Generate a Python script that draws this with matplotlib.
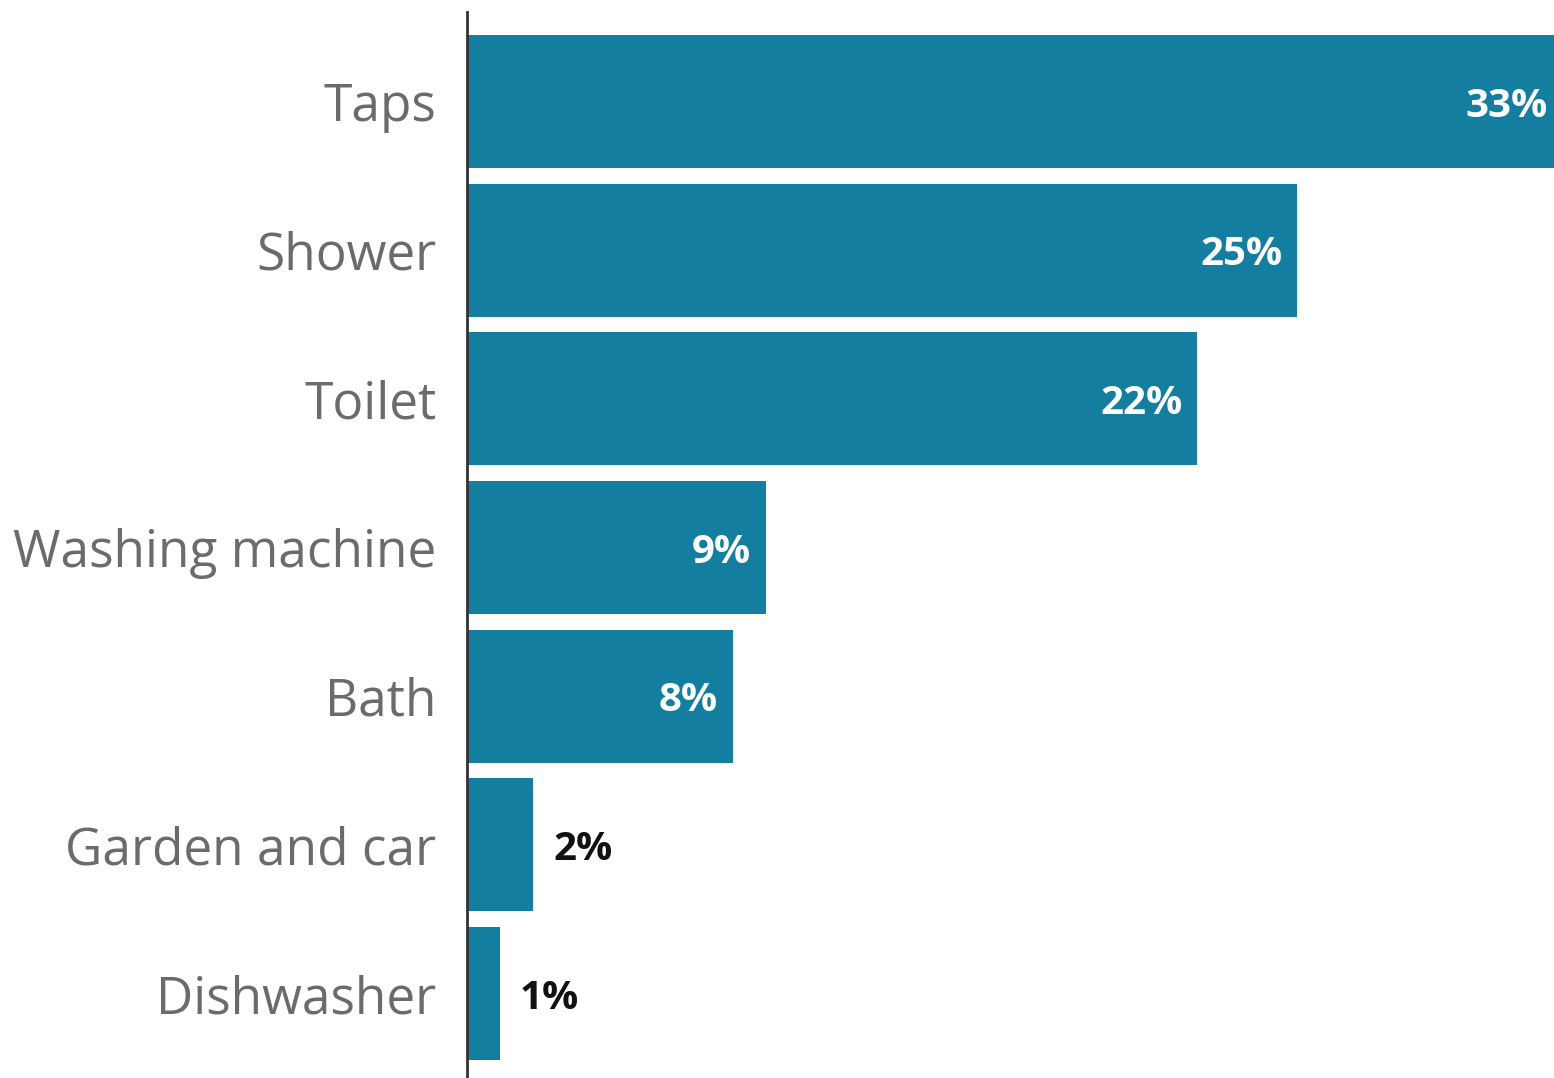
import matplotlib
matplotlib.use("Agg")
import matplotlib.pyplot as plt

categories = ["Taps", "Shower", "Toilet", "Washing machine", "Bath",
              "Garden and car", "Dishwasher"]
values = [33, 25, 22, 9, 8, 2, 1]
value_labels = ["33%", "25%", "22%", "9%", "8%", "2%", "1%"]

bar_color = "#137ea0"
plt.rcParams["font.family"] = ["Open Sans", "DejaVu Sans"]

fig = plt.figure(figsize=(15.54, 10.78), dpi=100)
ax = fig.add_axes([467 / 1554, 0, 1 - 467 / 1554, 1066 / 1078])

ypos = list(range(len(categories)))
ax.barh(ypos, values, height=0.895, color=bar_color, zorder=2)

# the top bar runs off the right edge, as in the original
ax.set_xlim(0, 32.74)
ax.set_ylim(6.568, -0.602)

for y, v, lab in zip(ypos, values, value_labels):
    if v >= 5:
        ax.text(v - 0.45, y, lab, ha="right", va="center_baseline",
                color="white", fontsize=29, fontweight="bold")
    else:
        ax.text(v + 0.6, y, lab, ha="left", va="center_baseline", color="#111111",
                fontsize=29, fontweight="bold")

ax.set_yticks(ypos)
ax.set_yticklabels(categories, fontsize=37, color="#6b6b6b")
ax.tick_params(axis="y", length=0, pad=22)
ax.set_xticks([])

for s in ["top", "right", "bottom"]:
    ax.spines[s].set_visible(False)
ax.spines["left"].set_color("#333333")
ax.spines["left"].set_linewidth(2)
ax.spines["left"].set_zorder(3)

fig.savefig("out.png", dpi=100)
